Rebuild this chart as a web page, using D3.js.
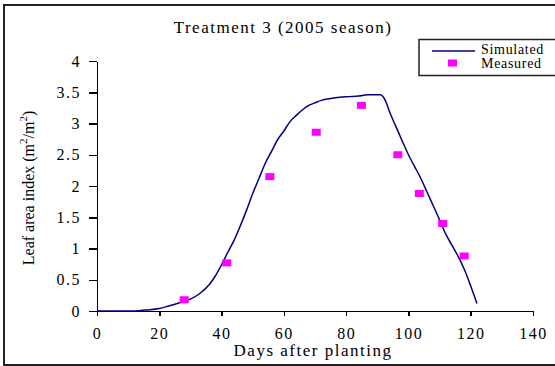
<!DOCTYPE html>
<html>
<head>
<title>Treatment 3 (2005 season)</title>
<style>
body { margin: 0; background: white; }
text {
    font-family: "Liberation Serif", "Times New Roman", serif;
    fill: black;
}
.tick text { font-size: 16px; letter-spacing: 1.5px; }
.axis path, .axis line { stroke: black; stroke-width: 1.5px; shape-rendering: crispEdges; }
</style>
</head>
<body>
<script src="https://cdn.jsdelivr.net/npm/d3@7"></script>
<div id="chart"></div>
<script>
// simulated LAI
var simDays = [0, 5, 10, 12, 14, 17, 20, 23, 27, 30, 33, 36, 38, 40, 42, 44, 46, 48, 50, 52, 54, 56, 58, 60, 62, 64, 66, 68, 70, 72, 75, 78, 81, 84, 87, 90, 91, 92, 93, 94, 96, 98, 100, 102, 104, 106, 108, 110, 112, 114, 116, 118, 120, 122];
var simLai = [0, 0, 0, 0, 0.01, 0.02, 0.04, 0.08, 0.14, 0.19, 0.28, 0.42, 0.56, 0.74, 0.94, 1.13, 1.36, 1.61, 1.88, 2.12, 2.36, 2.55, 2.74, 2.88, 3.03, 3.13, 3.22, 3.29, 3.33, 3.37, 3.40, 3.42, 3.43, 3.44, 3.46, 3.46, 3.46, 3.42, 3.32, 3.18, 2.95, 2.72, 2.50, 2.31, 2.12, 1.90, 1.68, 1.46, 1.23, 1.05, 0.87, 0.66, 0.40, 0.12];

// measured LAI
var measDays = [28, 41.7, 55.5, 70.4, 84.9, 96.6, 103.5, 111, 117.9];
var measLai = [0.18, 0.77, 2.15, 2.86, 3.29, 2.50, 1.88, 1.40, 0.88];

var xTicks = [0, 20, 40, 60, 80, 100, 120, 140];
var yTicks = [0, 0.5, 1, 1.5, 2, 2.5, 3, 3.5, 4];

(function() {
    var dimensions = { width: 555, height: 366 };
    var margins = { top: 61, right: 22, bottom: 55, left: 97 };
    var pw = 533 - margins.left, ph = 311 - margins.top;

    var svg = d3.select("#chart").append("svg")
        .attr("width", dimensions.width)
        .attr("height", dimensions.height);

    // outer frame
    svg.append("rect")
        .attr("x", 4).attr("y", 5)
        .attr("width", 560).attr("height", 360)
        .attr("fill", "none")
        .attr("stroke", "#222")
        .attr("stroke-width", 2);

    var x = d3.scaleLinear().domain([0, 140]).range([0, pw]);
    var y = d3.scaleLinear().domain([0, 4]).range([ph, 0]);

    var g = svg.append("g")
        .attr("transform", "translate(" + margins.left + "," + margins.top + ")");

    g.append("g")
        .attr("class", "axis")
        .attr("transform", "translate(0," + ph + ")")
        .call(d3.axisBottom(x).tickValues(xTicks).tickSize(5).tickSizeOuter(5).tickPadding(12).tickFormat(d3.format("d")));

    g.append("g")
        .attr("class", "axis")
        .call(d3.axisLeft(y).tickValues(yTicks).tickSize(8).tickSizeOuter(0).tickPadding(8).tickFormat(function(d) { return String(d); }));

    var line = d3.line()
        .x(function(d, i) { return x(simDays[i]); })
        .y(function(d) { return y(d); })
        .curve(d3.curveMonotoneX);
    g.append("path")
        .datum(simLai)
        .attr("d", line)
        .attr("fill", "none")
        .attr("stroke", "#000080")
        .attr("stroke-width", 1.5);

    g.selectAll("rect.meas")
        .data(measLai)
        .enter().append("rect")
        .attr("class", "meas")
        .attr("x", function(d, i) { return x(measDays[i]) - 4.5; })
        .attr("y", function(d) { return y(d) - 3.5; })
        .attr("width", 9)
        .attr("height", 7)
        .attr("fill", "#ff00ff");

    // title
    svg.append("text")
        .attr("x", 283).attr("y", 33)
        .attr("text-anchor", "middle")
        .style("font-size", "17px")
        .style("letter-spacing", "1.5px")
        .text("Treatment 3 (2005 season)");

    // axis labels
    svg.append("text")
        .attr("x", 313).attr("y", 356)
        .attr("text-anchor", "middle")
        .style("font-size", "17px")
        .style("letter-spacing", "1.5px")
        .text("Days after planting");

    var yl = svg.append("text")
        .attr("transform", "translate(34,188) rotate(-90)")
        .attr("text-anchor", "middle")
        .style("font-size", "16px");
    yl.append("tspan").text("Leaf area index (m");
    yl.append("tspan").attr("dy", -7).style("font-size", "11px").text("2");
    yl.append("tspan").attr("dy", 7).text("/m");
    yl.append("tspan").attr("dy", -7).style("font-size", "11px").text("2");
    yl.append("tspan").attr("dy", 7).text(")");

    // legend
    var lg = svg.append("g");
    lg.append("rect")
        .attr("x", 419).attr("y", 39.5)
        .attr("width", 150).attr("height", 36)
        .attr("fill", "white")
        .attr("stroke", "#222")
        .attr("stroke-width", 1.5);
    lg.append("line")
        .attr("x1", 432).attr("x2", 475)
        .attr("y1", 51).attr("y2", 51)
        .attr("stroke", "#000080")
        .attr("stroke-width", 1.5);
    lg.append("rect")
        .attr("x", 448).attr("y", 59.5)
        .attr("width", 9).attr("height", 7)
        .attr("fill", "#ff00ff");
    lg.append("text")
        .attr("x", 481).attr("y", 54)
        .style("font-size", "14px")
        .style("letter-spacing", "0.7px")
        .text("Simulated");
    lg.append("text")
        .attr("x", 481).attr("y", 68)
        .style("font-size", "14px")
        .style("letter-spacing", "0.7px")
        .text("Measured");
})();
</script>
</body>
</html>
